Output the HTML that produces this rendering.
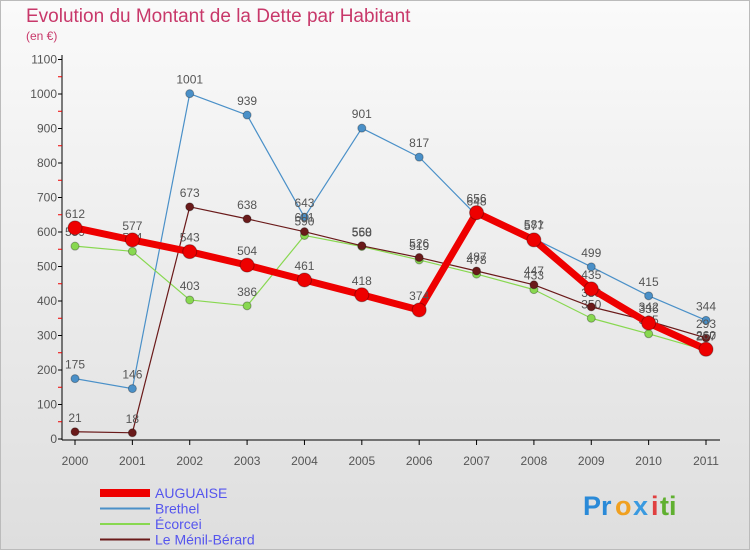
<!DOCTYPE html>
<html><head><meta charset="utf-8"><style>
body{margin:0;width:750px;height:550px;overflow:hidden;font-family:"Liberation Sans",sans-serif}
#c{position:absolute;left:0;top:0}
</style></head><body>
<svg id="c" width="750" height="550" xmlns="http://www.w3.org/2000/svg">
<defs><linearGradient id="bg" x1="0" y1="0" x2="0" y2="1"><stop offset="0" stop-color="#fafafa"/><stop offset="1" stop-color="#dedede"/></linearGradient></defs>
<rect x="0.5" y="0.5" width="749" height="549" fill="url(#bg)" stroke="#bbb"/>
<text x="26" y="22" font-size="19" fill="#c8386a">Evolution du Montant de la Dette par Habitant</text>
<text x="26" y="40" font-size="12" fill="#c8386a">(en €)</text>
<g id="axes"></g><g id="series"></g><g id="legend"></g>
<g font-size="27" font-weight="bold">
<text x="583" y="515" fill="#2a8ad8">Pr</text><text x="615" y="515" fill="#f0a020">o</text><text x="633" y="515" fill="#3a9ae0">x</text><text x="651" y="515" fill="#e04040">i</text><text x="660" y="515" fill="#60b030">ti</text>
</g>
</svg>
<script>
const years=[2000,2001,2002,2003,2004,2005,2006,2007,2008,2009,2010,2011];
const yTicks=[0,100,200,300,400,500,600,700,800,900,1000,1100];
const auguaise=[612,577,543,504,461,418,374,656,577,435,336,260];
const brethel=[175,146,1001,939,643,901,817,648,581,499,415,344];
const ecorcei=[559,544,403,386,590,558,519,478,433,350,305,257];
const menil=[21,18,673,638,601,560,526,487,447,383,342,293];
const NS="http://www.w3.org/2000/svg";
const X=i=>75+i*(706-75)/11, Y=v=>439-v*(379.5/1100);
function mk(p,t,a){const e=document.createElementNS(NS,t);for(const k in a)e.setAttribute(k,a[k]);p.appendChild(e);return e;}
const ax=document.getElementById('axes');
let l=mk(ax,'line',{x1:62,y1:55,x2:62,y2:440,stroke:'#000'});

l=mk(ax,'line',{x1:62,y1:440,x2:720,y2:440,stroke:'#000'});

yTicks.forEach(v=>{mk(ax,'line',{x1:58,x2:62,y1:Y(v),y2:Y(v),stroke:'#000'});
 if(v<1100)mk(ax,'line',{x1:58,x2:62,y1:Y(v+50),y2:Y(v+50),stroke:'#e00'});
 const t=mk(ax,'text',{x:57,y:Y(v)+4,'font-size':12,'text-anchor':'end',fill:'#555'});t.textContent=v;
 });
years.forEach((y,i)=>{mk(ax,'line',{x1:X(i),x2:X(i),y1:440,y2:445,stroke:'#000'});
 const t=mk(ax,'text',{x:X(i),y:465,'font-size':12,'text-anchor':'middle',fill:'#555'});t.textContent=y;
 });
const S=[["Brethel",brethel,'#4a90c8',1.2,4],["Écorcei",ecorcei,'#88d850',1.2,4],["Le Ménil-Bérard",menil,'#6a1a1a',1.2,4],["AUGUAISE",auguaise,'#ee0000',7,7]];
const sg=document.getElementById('series');
S.forEach(([n,d,c,w,r])=>{const g=mk(sg,'g',{});
 
 mk(g,'polyline',{points:d.map((v,i)=>X(i)+','+Y(v)).join(' '),fill:'none',stroke:c,'stroke-width':w,'stroke-linejoin':'round'});
 d.forEach((v,i)=>{const p=mk(g,'circle',{cx:X(i),cy:Y(v),r:r,fill:c,stroke:'rgba(0,0,0,0.3)'});
  
  const t=mk(g,'text',{x:X(i),y:Y(v)-10,'font-size':12,'text-anchor':'middle',fill:'#555'});t.textContent=v;});
});
const lg=document.getElementById('legend');
[["AUGUAISE",'#ee0000',8],["Brethel",'#4a90c8',2],["Écorcei",'#88d850',2],["Le Ménil-Bérard",'#6a1a1a',2]].forEach(([n,c,w],i)=>{
 const g=mk(lg,'g',{});
 const y=493+i*15.5;mk(g,'line',{x1:100,x2:150,y1:y,y2:y,stroke:c,'stroke-width':w});
 const t=mk(g,'text',{x:155,y:y+5,'font-size':14,fill:'#5555ee'});t.textContent=n;});
</script>
</body></html>
